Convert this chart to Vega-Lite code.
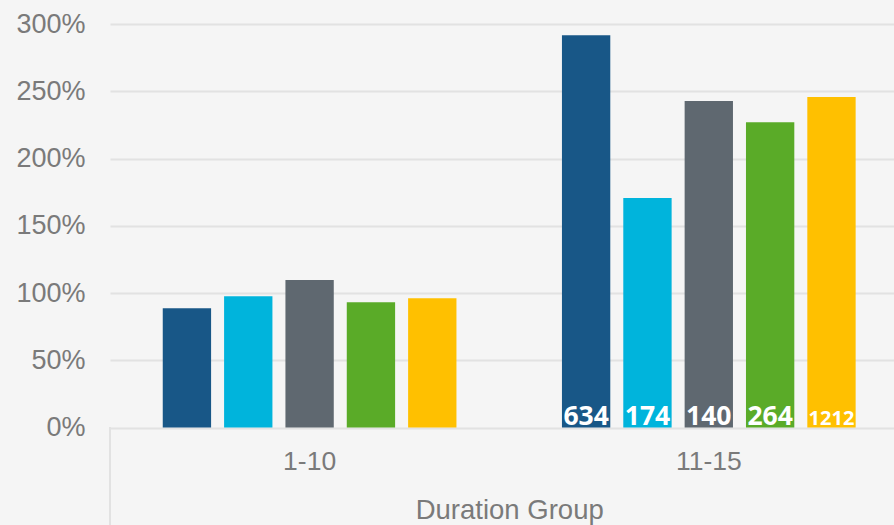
{
  "$schema": "https://vega.github.io/schema/vega-lite/v6.json",
  "width": 784,
  "height": 403.5,
  "autosize": {"type": "none"},
  "padding": {"left": 110, "top": 24, "right": 0, "bottom": 97.5},
  "background": "#f5f5f5",
  "config": {"view": {"stroke": null}, "font": "Liberation Sans"},
  "data": {
    "values": [
      {"group": "1-10", "series": "Series 1", "value": 0.886, "n": null},
      {"group": "1-10", "series": "Series 2", "value": 0.975, "n": null},
      {"group": "1-10", "series": "Series 3", "value": 1.097, "n": null},
      {"group": "1-10", "series": "Series 4", "value": 0.931, "n": null},
      {"group": "1-10", "series": "Series 5", "value": 0.961, "n": null},
      {"group": "11-15", "series": "Series 1", "value": 2.916, "n": 634},
      {"group": "11-15", "series": "Series 2", "value": 1.706, "n": 174},
      {"group": "11-15", "series": "Series 3", "value": 2.428, "n": 140},
      {"group": "11-15", "series": "Series 4", "value": 2.269, "n": 264},
      {"group": "11-15", "series": "Series 5", "value": 2.457, "n": 1212}
    ]
  },
  "layer": [
    {
      "mark": {"type": "bar"},
      "encoding": {
        "x": {
          "field": "group",
          "type": "nominal",
          "sort": ["1-10", "11-15"],
          "scale": {"range": [0, 798.4], "paddingInner": 0, "paddingOuter": 0},
          "axis": {
            "domain": false,
            "ticks": false,
            "labelAngle": 0,
            "labelFont": "Liberation Sans",
            "labelFontSize": 26.5,
            "labelColor": "#7a7a7a",
            "labelBaseline": "alphabetic",
            "labelPadding": 41.8,
            "title": "Duration Group",
            "titleFont": "Liberation Sans",
            "titleFontSize": 27.5,
            "titleFontWeight": "normal",
            "titleColor": "#7a7a7a",
            "titleBaseline": "alphabetic",
            "titleY": 90.8
          }
        },
        "xOffset": {
          "field": "series",
          "type": "nominal",
          "scale": {"paddingInner": 0.212, "paddingOuter": 0.86}
        },
        "y": {
          "field": "value",
          "type": "quantitative",
          "scale": {"domain": [0, 3], "nice": false},
          "axis": {
            "values": [0, 0.5, 1, 1.5, 2, 2.5, 3],
            "format": ".0%",
            "domain": false,
            "ticks": false,
            "grid": true,
            "gridColor": "#e2e2e2",
            "gridWidth": 2,
            "labelFont": "Liberation Sans",
            "labelFontSize": 27,
            "labelColor": "#7a7a7a",
            "labelPadding": 25,
            "labelBaseline": "middle",
            "title": null
          }
        },
        "color": {
          "field": "series",
          "type": "nominal",
          "scale": {"range": ["#185787", "#00b4dc", "#5f6870", "#5aab28", "#ffc000"]},
          "legend": null
        }
      }
    },
    {
      "transform": [{"filter": "datum.n != null"}],
      "mark": {"type": "text", "color": "white", "font": "Open Sans", "fontWeight": "bold", "baseline": "alphabetic", "dy": -3},
      "encoding": {
        "x": {"field": "group", "type": "nominal", "sort": ["1-10", "11-15"]},
        "xOffset": {"field": "series", "type": "nominal"},
        "y": {"datum": 0},
        "text": {"field": "n", "type": "quantitative", "format": "d"},
        "size": {"condition": {"test": "datum.n >= 1000", "value": 20}, "value": 26.5}
      }
    },
    {
      "mark": {"type": "rule", "color": "#e2e2e2", "strokeWidth": 2},
      "encoding": {
        "x": {"datum": "1-10", "bandPosition": 0},
        "y": {"datum": 0},
        "y2": {"datum": -0.73}
      }
    }
  ]
}
